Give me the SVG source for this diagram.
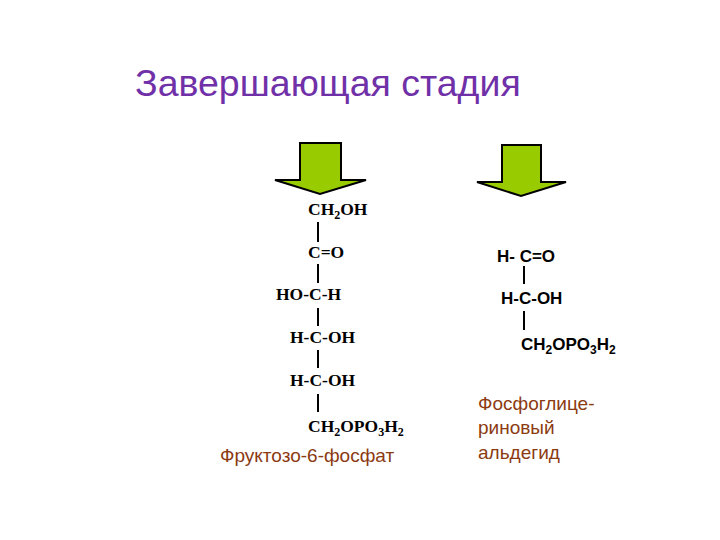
<svg xmlns="http://www.w3.org/2000/svg" width="720" height="540" viewBox="0 0 720 540">
<style>
.s{font-family:"Liberation Serif",serif;font-weight:bold;font-size:17.5px;fill:#000}
.a{font-family:"Liberation Sans",sans-serif;font-weight:bold;font-size:17px;fill:#000}
.l{font-family:"Liberation Sans",sans-serif;font-size:19px;fill:#8B3A12}
.b{stroke:#000;stroke-width:2}
.arr{fill:#99CC00;stroke:#000;stroke-width:2}
</style>
<rect width="720" height="540" fill="#fff"/>
<text x="135" y="96" font-family="Liberation Sans,sans-serif" font-size="37.5" fill="#7030A8">Завершающая стадия</text>
<g id="arrow1"><path class="arr" d="M300,143 H341 V180 H366 L320,194 L275,180 H300 Z"/></g>
<g id="arrow2"><path class="arr" d="M502,145 H541 V182 H566 L521,196 L477,182 H502 Z"/></g>
<g id="fructose">
<text class="s" x="308" y="215">CH<tspan font-size="12" dy="4">2</tspan><tspan dy="-4">OH</tspan></text>
<text class="s" x="308" y="258">C=O</text>
<text class="s" x="276" y="300">HO-C-H</text>
<text class="s" x="290" y="343">H-C-OH</text>
<text class="s" x="290" y="386">H-C-OH</text>
<text class="s" x="308" y="432">CH<tspan font-size="12" dy="4">2</tspan><tspan dy="-4">OPO</tspan><tspan font-size="12" dy="4">3</tspan><tspan dy="-4">H</tspan><tspan font-size="12" dy="4">2</tspan></text>
<text class="l" x="220" y="462" font-size="21">Фруктозо-6-фосфат</text>
</g>
<g id="pga">
<text class="a" x="497" y="262">H- C=O</text>
<text class="a" x="501" y="304">H-C-OH</text>
<text class="a" x="521" y="350">CH<tspan font-size="12" dy="4">2</tspan><tspan dy="-4">OPO</tspan><tspan font-size="12" dy="4">3</tspan><tspan dy="-4">H</tspan><tspan font-size="12" dy="4">2</tspan></text>
<text class="l" x="478" y="410">Фосфоглице-</text>
<text class="l" x="478" y="434">риновый</text>
<text class="l" x="478" y="459">альдегид</text>
</g>
<g id="connectors">
<line class="b" x1="318" y1="222" x2="318" y2="242"/>
<line class="b" x1="318" y1="264" x2="318" y2="283"/>
<line class="b" x1="318" y1="308" x2="318" y2="326"/>
<line class="b" x1="318" y1="350" x2="318" y2="368"/>
<line class="b" x1="318" y1="394" x2="318" y2="412"/>
<line class="b" x1="524" y1="266" x2="524" y2="284"/>
<line class="b" x1="524" y1="311" x2="524" y2="330"/>
</g>
</svg>
